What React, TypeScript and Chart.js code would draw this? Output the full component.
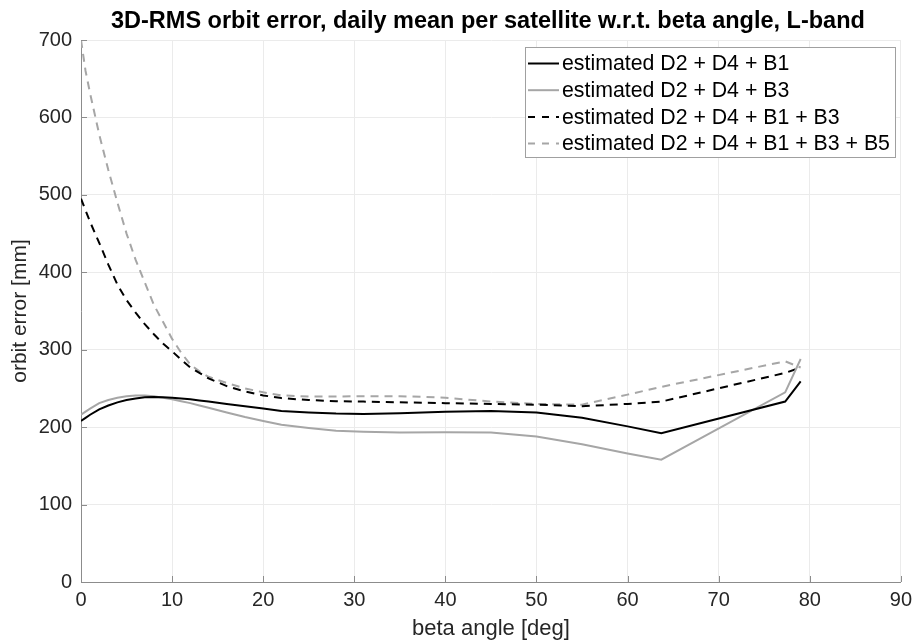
import React, { useEffect, useRef } from "react";
import { Chart, registerables } from "chart.js";

Chart.register(...registerables);

// ---- data ----
const betaAngles = [0, 0.5, 1, 2, 3, 4, 5, 6, 7, 8, 9, 10, 11, 12, 13, 14, 16, 18, 20, 22, 25, 28, 31, 35, 40, 45, 50, 55, 60, 63.7, 77.3, 79];
const estB1 = [208, 212, 216, 223, 228, 232, 235, 237, 238.5, 239, 238.7, 238, 237, 236, 234.5, 233, 230, 227, 224, 221, 219, 217.5, 217, 218, 220, 221, 219, 212, 201, 192, 233, 259];
const estB3 = [216, 220, 224, 231, 235, 238, 240, 241, 241, 240, 238, 236, 233.5, 231, 228, 225, 219, 213, 208, 203, 199, 195.5, 194, 193, 193.5, 193, 188, 178, 166, 158, 245, 288];
const estB1B3 = [495, 480, 465, 438, 410, 384, 364, 348, 333, 320, 308, 298, 287, 277, 270, 263, 253, 246, 241, 237.5, 235, 233.5, 233, 232, 231, 230, 229, 227, 230, 233, 270, 277];
const estB1B3B5 = [700, 660, 631, 578, 532, 490, 450, 416, 387, 358, 336, 314, 296, 281, 272, 265, 257, 250, 245, 241, 239.5, 239.5, 240, 240, 238, 233, 230, 229, 242, 252, 285, 277];

const seriesLabels = [
  "estimated D2 + D4 + B1",
  "estimated D2 + D4 + B3",
  "estimated D2 + D4 + B1 + B3",
  "estimated D2 + D4 + B1 + B3 + B5",
];
const seriesValues = [estB1, estB3, estB1B3, estB1B3B5];
const seriesColors = ["#000000", "#a6a6a6", "#000000", "#a6a6a6"];
const seriesDashed = [false, false, true, true];

const titleText = "3D-RMS orbit error, daily mean per satellite w.r.t. beta angle, L-band";
const xAxisLabel = "beta angle [deg]";
const yAxisLabel = "orbit error [mm]";
const xMin = 0, xMax = 90, xStep = 10;
const yMin = 0, yMax = 700, yStep = 100;

const FONT = "'Liberation Sans', Arial, Helvetica, sans-serif";
const DASH = [8, 6];

const decorPlugin = {
  id: "decor",
  afterDraw(chart: any) {
    const { ctx, chartArea } = chart;
    const xs = chart.scales.x;
    const ys = chart.scales.y;
    ctx.save();
    // inward ticks
    ctx.strokeStyle = "#8c8c8c";
    ctx.lineWidth = 1;
    ctx.beginPath();
    for (let v = xMin; v <= xMax; v += xStep) {
      const px = Math.round(xs.getPixelForValue(v)) + 0.5;
      ctx.moveTo(px, chartArea.bottom);
      ctx.lineTo(px, chartArea.bottom - 6);
    }
    for (let v = yMin; v <= yMax; v += yStep) {
      const py = Math.round(ys.getPixelForValue(v)) + 0.5;
      ctx.moveTo(chartArea.left, py);
      ctx.lineTo(chartArea.left + 6, py);
    }
    ctx.stroke();

    // title
    ctx.fillStyle = "#000";
    ctx.font = `bold 23.5px ${FONT}`;
    ctx.textAlign = "center";
    ctx.textBaseline = "middle";
    ctx.fillText(titleText, (chartArea.left + chartArea.right) / 2 - 3, 22);

    // legend
    const bx = 525, by = 47, bw = 370, bh = 110;
    ctx.fillStyle = "#fff";
    ctx.fillRect(bx, by, bw, bh);
    ctx.strokeStyle = "#a0a0a0";
    ctx.lineWidth = 1;
    ctx.strokeRect(bx + 0.5, by + 0.5, bw, bh);
    ctx.font = `21.3px ${FONT}`;
    ctx.textAlign = "left";
    ctx.textBaseline = "middle";
    seriesLabels.forEach((lab, i) => {
      const cy = 63.5 + i * 26.7;
      ctx.strokeStyle = seriesColors[i];
      ctx.lineWidth = 2;
      ctx.setLineDash(seriesDashed[i] ? [7, 7] : []);
      ctx.beginPath();
      ctx.moveTo(528, cy);
      ctx.lineTo(559, cy);
      ctx.stroke();
      ctx.setLineDash([]);
      ctx.fillStyle = "#000";
      ctx.fillText(lab, 562, cy + 1);
    });
    ctx.restore();
  },
};

export default function App() {
  const ref = useRef<HTMLCanvasElement>(null);
  useEffect(() => {
    document.body.style.margin = "0";
    const canvas = ref.current!;
    const chart = new Chart(canvas, {
      type: "line",
      data: {
        datasets: seriesLabels.map((label, i) => ({
          label,
          data: betaAngles.map((x, j) => ({ x, y: seriesValues[i][j] })),
          borderColor: seriesColors[i],
          backgroundColor: seriesColors[i],
          borderWidth: 2,
          borderDash: seriesDashed[i] ? DASH : [],
          pointRadius: 0,
          tension: 0,
          fill: false,
        })),
      },
      options: {
        responsive: false,
        animation: false,
        devicePixelRatio: 1,
        layout: { padding: { top: 40, right: 10, left: 0, bottom: 0 } },
        plugins: {
          legend: { display: false },
          title: { display: false },
          tooltip: { enabled: false },
        },
        scales: {
          x: {
            type: "linear",
            min: xMin,
            max: xMax,
            afterFit: (s: any) => { s.height = 61; },
            ticks: { stepSize: xStep, color: "#262626", font: { family: FONT, size: 20 }, padding: 6, maxRotation: 0 },
            grid: { color: "#ebebeb", drawTicks: false },
            border: { display: true, color: "#8c8c8c", width: 1 },
            title: { display: true, text: xAxisLabel, color: "#262626", font: { family: FONT, size: 22 }, padding: { top: 0, bottom: 1 } },
          },
          y: {
            type: "linear",
            min: yMin,
            max: yMax,
            afterFit: (s: any) => { s.width = 81; },
            ticks: { stepSize: yStep, color: "#262626", font: { family: FONT, size: 20 }, padding: 9 },
            grid: { color: "#ebebeb", drawTicks: false },
            border: { display: true, color: "#8c8c8c", width: 1 },
            title: { display: true, text: yAxisLabel, color: "#262626", font: { family: FONT, size: 21 }, padding: { top: 8, bottom: 0 } },
          },
        },
      },
      plugins: [decorPlugin],
    });
    return () => chart.destroy();
  }, []);
  return (
    <div style={{ position: "relative", width: 918, height: 643 }}>
      <canvas ref={ref} width={918} height={643} />
    </div>
  );
}
